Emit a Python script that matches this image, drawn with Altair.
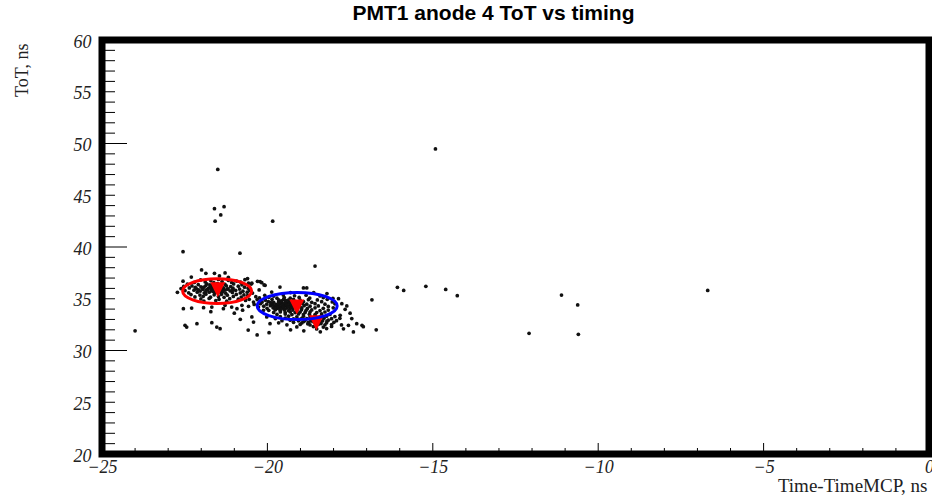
import altair as alt
import pandas as pd

# ---------------- text ----------------
chart_title = "PMT1 anode 4 ToT vs timing"
x_title = "Time-TimeMCP, ns"
y_title = "ToT, ns"

# ---------------- axes ----------------
x_domain = [-25, 0]
y_domain = [20, 60]
x_label_values = [-25, -20, -15, -10, -5, 0]
y_label_values = [20, 25, 30, 35, 40, 45, 50, 55, 60]
x_major_ticks = [-20, -15, -10, -5]
x_minor_ticks = [v for v in range(-24, 0) if v % 5 != 0]
y_major_ticks = [30, 40, 50]
y_minor_ticks = [v for v in range(21, 60) if v % 10 != 0]

# ---------------- scatter data (time [ns], ToT [ns]) ----------------
red_core = [
    (-22.02, 36.82), (-21.71, 36.75), (-21.48, 36.86), (-21.18, 36.78), (-20.93, 36.71), (-20.68, 36.84),
    (-22.21, 36.58), (-21.88, 36.63), (-21.62, 36.55), (-21.37, 36.66), (-21.08, 36.57), (-20.81, 36.61), (-20.57, 36.52),
    (-22.42, 36.41), (-22.09, 36.36), (-21.83, 36.44), (-21.66, 36.33), (-21.51, 36.47), (-21.28, 36.38), (-21.02, 36.43), (-20.77, 36.35), (-20.49, 36.42),
    (-22.53, 36.19), (-22.28, 36.24), (-22.01, 36.15), (-21.86, 36.27), (-21.71, 36.18), (-21.57, 36.22), (-21.42, 36.13), (-21.24, 36.25), (-21.11, 36.16), (-20.88, 36.21), (-20.69, 36.12),
    (-22.61, 35.98), (-22.36, 36.04), (-22.14, 35.95), (-21.97, 36.06), (-21.79, 35.97), (-21.64, 36.03), (-21.49, 35.94), (-21.33, 36.05), (-21.19, 35.96), (-21.04, 36.02), (-20.84, 35.93), (-20.58, 36.01),
    (-22.49, 35.79), (-22.22, 35.83), (-22.03, 35.74), (-21.84, 35.85), (-21.69, 35.76), (-21.54, 35.81), (-21.41, 35.72), (-21.29, 35.84), (-21.13, 35.77), (-20.96, 35.82), (-20.74, 35.73), (-20.53, 35.80),
    (-22.72, 35.62), (-22.38, 35.57), (-22.12, 35.64), (-21.91, 35.55), (-21.76, 35.63), (-21.59, 35.58), (-21.44, 35.66), (-21.26, 35.54), (-21.06, 35.61), (-20.82, 35.56), (-20.61, 35.64),
    (-22.31, 35.41), (-22.04, 35.36), (-21.86, 35.44), (-21.61, 35.38), (-21.39, 35.43), (-21.21, 35.35), (-20.94, 35.42), (-20.71, 35.37),
    (-22.19, 35.18), (-21.94, 35.23), (-21.72, 35.15), (-21.48, 35.21), (-21.31, 35.14), (-21.03, 35.22), (-20.79, 35.16),
    (-22.01, 34.98), (-21.76, 35.03), (-21.46, 34.95), (-21.14, 35.01), (-20.88, 34.96),
    (-21.92, 34.78), (-21.56, 34.82), (-21.23, 34.76), (-20.66, 34.84),
    (-21.92, 36.12), (-21.81, 35.88), (-21.74, 36.09), (-21.68, 35.90), (-21.58, 36.11), (-21.52, 35.87),
    (-21.46, 36.07), (-21.37, 35.89), (-21.95, 35.91), (-21.63, 35.70), (-21.35, 35.67), (-21.87, 35.68),
    (-22.08, 35.86), (-21.22, 35.92), (-21.74, 36.34), (-21.45, 36.31), (-22.18, 36.11), (-21.05, 35.85),
]
red_upper = [
    (-21.99, 37.78), (-21.86, 37.46), (-21.60, 37.46), (-21.28, 37.50), (-21.18, 37.07), (-20.60, 36.95),
    (-20.22, 36.65), (-20.10, 36.33), (-22.30, 37.10), (-21.45, 37.20), (-20.47, 36.50), (-22.55, 36.70),
]
red_lower = [
    (-22.54, 34.04), (-22.29, 34.10), (-21.93, 34.14), (-21.68, 34.20), (-21.33, 34.04), (-21.28, 34.36),
    (-21.08, 34.20), (-20.92, 34.04), (-20.77, 34.36), (-20.57, 34.27), (-20.42, 34.68), (-20.27, 34.20),
    (-20.12, 33.88), (-22.49, 32.43), (-22.44, 32.27), (-22.13, 32.59), (-21.68, 32.69), (-21.53, 32.27),
    (-21.43, 32.11), (-20.82, 33.01), (-20.47, 33.24), (-20.42, 32.75), (-20.02, 33.24), (-19.92, 32.59),
    (-20.58, 31.98), (-20.31, 31.50), (-19.95, 31.72), (-21.71, 33.75), (-21.00, 33.60), (-20.75, 33.90),
]
bridge = [
    (-20.45, 35.55), (-20.35, 35.20), (-20.55, 34.95), (-20.40, 34.45), (-20.60, 35.30), (-20.25, 35.85),
    (-18.91, 36.04), (-18.81, 36.04), (-19.87, 35.65), (-20.17, 36.55), (-20.30, 36.68), (-20.07, 36.30),
    (-19.62, 36.13), (-18.60, 35.60), (-18.20, 35.50), (-19.30, 35.60),
]
blue_core = [
    (-20.08, 35.33), (-19.81, 35.26), (-19.52, 35.36), (-19.18, 35.29), (-18.83, 35.34), (-18.41, 35.27),
    (-20.24, 35.08), (-19.96, 35.14), (-19.71, 35.05), (-19.49, 35.12), (-19.31, 35.06), (-19.04, 35.13), (-18.72, 35.07), (-18.31, 35.11), (-18.02, 35.04),
    (-20.31, 34.92), (-20.06, 34.86), (-19.86, 34.94), (-19.66, 34.88), (-19.51, 34.95), (-19.37, 34.87), (-19.21, 34.93), (-19.01, 34.86), (-18.76, 34.91), (-18.49, 34.88), (-18.19, 34.94),
    (-20.16, 34.68), (-19.97, 34.73), (-19.81, 34.66), (-19.66, 34.72), (-19.56, 34.67), (-19.44, 34.74), (-19.34, 34.65), (-19.24, 34.71), (-19.11, 34.68), (-18.91, 34.73), (-18.66, 34.66), (-18.36, 34.72), (-18.04, 34.69),
    (-20.21, 34.52), (-20.02, 34.47), (-19.86, 34.53), (-19.73, 34.46), (-19.61, 34.52), (-19.51, 34.48), (-19.41, 34.54), (-19.31, 34.47), (-19.19, 34.51), (-19.07, 34.46), (-18.94, 34.53), (-18.81, 34.48), (-18.56, 34.52), (-18.26, 34.47), (-17.96, 34.51),
    (-20.11, 34.28), (-19.91, 34.33), (-19.79, 34.26), (-19.67, 34.32), (-19.57, 34.27), (-19.47, 34.34), (-19.37, 34.29), (-19.27, 34.26), (-19.16, 34.32), (-19.03, 34.27), (-18.89, 34.33), (-18.71, 34.28), (-18.46, 34.31), (-18.16, 34.26),
    (-20.01, 34.08), (-19.83, 34.13), (-19.71, 34.06), (-19.61, 34.12), (-19.51, 34.07), (-19.41, 34.13), (-19.31, 34.08), (-19.21, 34.12), (-19.09, 34.06), (-18.96, 34.11), (-18.79, 34.07), (-18.56, 34.13), (-18.31, 34.08), (-18.01, 34.12),
    (-19.96, 33.88), (-19.76, 33.93), (-19.61, 33.87), (-19.49, 33.92), (-19.36, 33.86), (-19.23, 33.91), (-19.11, 33.87), (-18.97, 33.93), (-18.83, 33.88), (-18.66, 33.92), (-18.41, 33.86), (-18.16, 33.91),
    (-19.81, 33.68), (-19.61, 33.72), (-19.46, 33.67), (-19.31, 33.73), (-19.16, 33.66), (-19.01, 33.71), (-18.86, 33.68), (-18.71, 33.73), (-18.51, 33.67), (-18.26, 33.72),
    (-19.71, 33.48), (-19.46, 33.52), (-19.26, 33.47), (-19.06, 33.53), (-18.91, 33.46), (-18.73, 33.51), (-18.56, 33.47), (-18.36, 33.53), (-18.11, 33.49),
    (-19.72, 34.38), (-19.63, 34.58), (-19.55, 34.41), (-19.46, 34.60), (-19.42, 34.39), (-19.33, 34.58),
    (-19.29, 34.40), (-19.68, 34.20), (-19.52, 34.19), (-19.38, 34.21), (-19.24, 34.20), (-19.83, 34.42),
    (-19.90, 34.62), (-19.58, 34.80), (-19.44, 34.82), (-19.77, 34.00), (-19.47, 33.99), (-19.14, 34.41),
    (-19.02, 34.62), (-19.62, 33.98),
]
blue_lower = [
    (-19.61, 33.28), (-19.36, 33.32), (-19.11, 33.26), (-18.91, 33.31), (-18.71, 33.27), (-18.56, 33.33), (-18.41, 33.26), (-18.21, 33.31), (-17.96, 33.28),
    (-19.76, 33.08), (-19.46, 33.12), (-19.21, 33.06), (-18.96, 33.11), (-18.81, 33.07), (-18.63, 33.13), (-18.46, 33.06), (-18.29, 33.12), (-18.06, 33.07), (-17.81, 33.11),
    (-19.56, 32.88), (-19.31, 32.93), (-19.06, 32.87), (-18.86, 32.92), (-18.69, 32.86), (-18.51, 32.91), (-18.33, 32.87), (-18.16, 32.93), (-17.91, 32.88),
    (-19.66, 32.68), (-19.21, 32.72), (-18.96, 32.66), (-18.76, 32.71), (-18.56, 32.67), (-18.39, 32.73), (-18.21, 32.68), (-17.99, 32.72),
    (-19.41, 32.48), (-19.01, 32.52), (-18.71, 32.47), (-18.46, 32.53), (-18.26, 32.48), (-18.06, 32.51), (-17.76, 32.47),
    (-19.11, 32.28), (-18.61, 32.31), (-18.31, 32.26), (-18.06, 32.32),
    (-18.51, 32.08), (-18.21, 32.12), (-18.90, 31.90), (-18.40, 31.80), (-19.30, 32.00),
    (-18.90, 32.80), (-18.62, 32.79), (-18.38, 32.60), (-18.78, 32.58), (-19.05, 33.00), (-18.55, 33.00),
    (-18.20, 32.85),
]
right_tail = [
    (-17.85, 35.01), (-17.75, 34.52), (-17.65, 33.98), (-17.80, 33.40), (-17.45, 33.08), (-17.30, 32.59),
    (-17.14, 32.43), (-17.40, 31.79), (-17.55, 32.43), (-17.70, 32.10), (-17.60, 34.30), (-17.50, 33.60),
    (-16.84, 34.90), (-17.10, 32.30), (-16.71, 32.00),
]
outliers = [
    (-24.00, 31.90), (-22.55, 39.55), (-21.50, 47.50), (-21.60, 43.70), (-21.31, 43.90), (-21.41, 43.10),
    (-21.58, 42.50), (-19.84, 42.50), (-20.83, 39.40), (-18.56, 38.16), (-14.92, 49.47), (-16.07, 36.10),
    (-15.88, 35.80), (-15.21, 36.20), (-14.61, 35.90), (-14.26, 35.30), (-12.09, 31.66), (-11.11, 35.36),
    (-10.62, 34.40), (-10.60, 31.56), (-6.69, 35.80),
]

# ---------------- fit overlays ----------------
fit_peak_time = [-21.50, -19.11, -18.52]
fit_peak_tot = [35.88, 34.20, 32.69]
red_ellipse_center = (-21.52, 35.74)
blue_ellipse_center = (-19.10, 34.30)

# ---------------- build ----------------
all_pts = red_core + red_upper + red_lower + bridge + blue_core + blue_lower + right_tail + outliers
df_pts = pd.DataFrame(all_pts, columns=["time", "tot"])

xs = alt.Scale(domain=x_domain, nice=False, zero=False)
ys = alt.Scale(domain=y_domain, nice=False, zero=False)

SERIF = "Liberation Serif"
TXT = "#222222"

x_axis = alt.Axis(
    values=x_label_values, ticks=False, tickSize=0, domain=False, grid=False,
    labelFont=SERIF, labelFontStyle="italic", labelFontSize=18, labelColor=TXT,
    labelPadding=4, labelFlush=False, labelOverlap=False,
    title=x_title, titleFont=SERIF, titleFontWeight="normal", titleFontSize=19,
    titleColor=TXT, titleAlign="right", titleAnchor="end", titleX=825, titleY=37,
    titleBaseline="alphabetic",
)
y_axis = alt.Axis(
    values=y_label_values, ticks=False, tickSize=0, domain=False, grid=False,
    labelFont=SERIF, labelFontStyle="italic", labelFontSize=18, labelColor=TXT,
    labelPadding=11, labelFlush=False, labelOverlap=False, labelOffset=2,
    title=y_title, titleFont=SERIF, titleFontWeight="normal", titleFontSize=18,
    titleColor=TXT, titleAngle=270, titleAlign="right", titleAnchor="end",
    titleX=-80, titleY=3, titleBaseline="middle",
)

X = alt.X("time:Q", scale=xs, axis=x_axis)
Y = alt.Y("tot:Q", scale=ys, axis=y_axis)

points = alt.Chart(df_pts).mark_circle(size=14, color="#111111", opacity=1).encode(x=X, y=Y)

def xtick_layer(vals, length):
    return alt.Chart(pd.DataFrame({"time": vals})).mark_rule(color="black", strokeWidth=1).encode(
        x=X, y=alt.value(414), y2=alt.value(414 - length),
    )

def ytick_layer(vals, length):
    return alt.Chart(pd.DataFrame({"tot": vals})).mark_rule(color="black", strokeWidth=1).encode(
        y=Y, x=alt.value(0), x2=alt.value(length),
    )

k = 0.5523
def ellipse_path(ry):
    a = round(k * ry, 4)
    b = ry
    return (f"M1,0 C1,{a} {k},{b} 0,{b} C-{k},{b} -1,{a} -1,0 "
            f"C-1,-{a} -{k},-{b} 0,-{b} C{k},-{b} 1,-{a} 1,0 Z")

def ellipse_layer(center, color, width_px, ratio):
    return alt.Chart(pd.DataFrame({"time": [center[0]], "tot": [center[1]]})).mark_point(
        shape=ellipse_path(ratio), size=width_px ** 2, filled=False, color=color,
        strokeWidth=3, opacity=1,
    ).encode(x=X, y=Y)

tri = alt.Chart(pd.DataFrame({"time": fit_peak_time, "tot": fit_peak_tot})).mark_point(
    shape="M-1,-1L1,-1L0,1Z", size=225, filled=True, color="#ff0000", opacity=1, strokeWidth=0,
).encode(x=X, y=Y)

chart = alt.layer(
    points,
    xtick_layer(x_major_ticks, 11),
    xtick_layer(x_minor_ticks, 6),
    ytick_layer(y_major_ticks, 25),
    ytick_layer(y_minor_ticks, 13),
    tri,
    ellipse_layer(red_ellipse_center, "#ff0000", 69, 0.36),
    ellipse_layer(blue_ellipse_center, "#0000ff", 80, 0.34),
).properties(
    width=827,
    height=414,
    title=alt.TitleParams(
        chart_title, font="Liberation Sans", fontWeight="bold", fontSize=21,
        color="#000000", anchor="middle", dx=-22, offset=9,
    ),
    autosize=alt.AutoSizeParams(type="none"),
    padding={"left": 102, "top": 40, "right": 3, "bottom": 42},
).configure(
    background="white",
    view=alt.ViewConfig(stroke="black", strokeWidth=7),
)

chart.save("out.html", embed_options={"renderer": "svg", "actions": False})
